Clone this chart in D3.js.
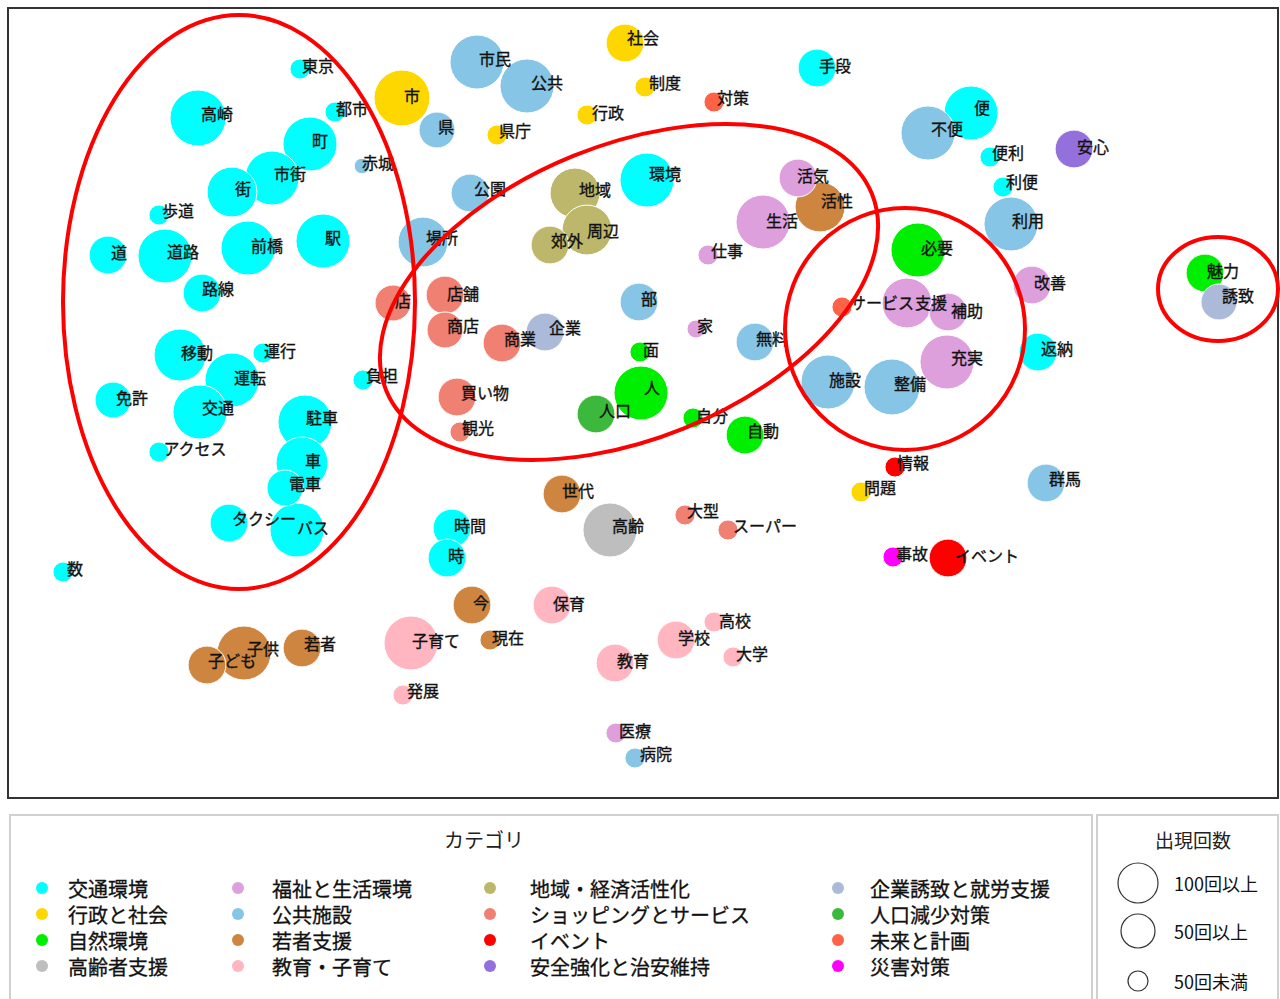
<!DOCTYPE html>
<html>
<head>
<meta charset="utf-8">
<script src="https://cdn.jsdelivr.net/npm/d3@7"></script>
<style>
  html, body { margin: 0; padding: 0; background: #fff; }
  svg { display: block; font-family: "Noto Sans CJK JP", "Noto Sans", sans-serif; }
</style>
</head>
<body>
<svg id="chart" width="1280" height="999"></svg>
<script>
// ---------- DATA ----------
const categories = ["交通環境","行政と社会","自然環境","高齢者支援","福祉と生活環境","公共施設","若者支援","教育・子育て",
  "地域・経済活性化","ショッピングとサービス","イベント","安全強化と治安維持","企業誘致と就労支援","人口減少対策","未来と計画","災害対策"];
const categoryColors = ["#00FFFF","#FFD700","#00EE00","#BEBEBE","#DDA0DD","#87C5E6","#CD853F","#FFB6C1",
  "#BDB76B","#F08072","#FF0000","#9370DB","#AABAD8","#3CB83C","#FF6347","#FF00FF"];

const words = ["東京","高崎","都市","市","町","赤城","市街","街","歩道","道","道路","前橋","駅","路線","店","場所",
  "移動","運転","運行","負担","免許","交通","駐車","アクセス","車","電車","タクシー","バス","数",
  "社会","市民","公共","制度","対策","行政","県","県庁","環境","公園","地域","周辺","郊外","活気","生活","仕事","店舗","部",
  "手段","便","不便","便利","安心","利便","活性","利用","必要","改善","魅力","誘致","サービス","支援","補助",
  "施設","整備","充実","返納","情報","問題","群馬","事故","イベント",
  "商店","商業","企業","家","無料","面","人","人口","買い物","観光","自分","自動","世代","高齢","大型","スーパー","時間","時","今","保育",
  "子ども","子供","若者","子育て","現在","発展","学校","高校","教育","大学","医療","病院"];
const wordCategory = [0,0,0,1,0,5,0,0,0,0,0,0,0,0,9,5,
  0,0,0,0,0,0,0,0,0,0,0,0,0,
  1,5,5,1,14,1,5,1,0,5,8,8,8,4,4,4,9,5,
  0,0,5,0,11,0,6,5,2,4,2,12,14,4,4,
  5,5,4,0,10,1,5,15,10,
  9,9,12,4,5,2,2,13,9,9,2,2,6,3,9,9,0,0,6,7,
  6,6,6,7,6,7,7,7,7,7,4,5];
const dim1 = [29.2,19.0,32.7,39.4,30.2,35.4,26.4,22.4,15.1,10.0,15.7,24.0,31.5,19.4,38.5,41.5,
  17.2,22.4,25.5,35.5,10.5,19.2,29.7,15.1,29.4,27.7,22.1,28.9,5.5,
  61.7,46.9,51.9,63.7,70.6,57.9,42.9,48.9,63.9,46.2,56.7,57.9,54.2,79.0,75.5,70.0,43.7,63.1,
  80.9,96.3,92.0,98.2,106.6,99.5,81.2,100.3,91.0,102.4,119.7,121.1,83.4,89.9,94.0,
  82.0,88.4,93.9,103.0,88.7,85.3,103.8,88.5,94.0,
  43.7,49.4,53.7,68.8,74.7,63.2,63.3,58.8,44.9,45.2,68.5,73.7,55.4,60.2,67.7,72.0,44.4,43.9,46.4,54.4,
  19.9,23.6,29.4,40.3,48.2,39.5,66.8,70.6,60.7,72.5,60.8,62.7];
const dim2 = [6.1,11.0,10.4,9.0,13.6,15.8,17.0,18.4,20.7,24.7,24.8,24.0,23.3,28.5,29.5,23.4,
  34.7,37.2,34.5,37.2,39.2,40.4,41.4,44.4,45.5,48.0,51.5,52.2,56.4,
  3.5,5.4,7.8,7.9,9.4,10.7,12.2,12.7,17.2,18.5,18.5,22.2,23.7,17.0,21.4,24.7,28.7,29.4,
  6.0,10.5,12.5,14.9,14.1,17.9,19.9,21.6,24.2,27.7,26.5,29.4,29.9,29.5,30.4,
  37.4,37.9,35.4,34.4,45.9,48.4,47.5,54.9,55.0,
  32.2,33.5,32.4,32.1,33.4,34.4,38.5,40.6,38.9,42.4,41.0,42.7,48.6,52.2,50.7,52.2,52.0,55.0,59.7,59.7,
  65.7,64.5,64.0,63.5,63.2,68.7,63.2,61.4,65.5,64.9,72.5,75.0];
const frequency = [15,116,15,116,108,9,108,92,15,53,108,108,108,53,48,92,
  100,108,15,15,48,108,108,15,100,48,53,108,15,
  53,108,108,15,15,15,48,15,108,53,92,92,53,53,108,15,53,53,
  53,108,108,15,53,15,92,108,108,53,53,48,15,92,53,
  108,116,108,53,15,15,53,15,53,
  48,53,53,12,53,15,108,53,53,15,15,53,53,108,15,15,53,53,53,53,
  53,108,53,108,15,15,53,15,53,15,15,15];
const labelDim1 = [31.0,20.9,34.4,40.4,31.2,37.0,28.2,23.5,17.0,11.1,17.5,25.9,32.5,21.0,39.5,43.4,
  18.9,24.2,27.2,37.4,12.4,21.0,31.4,18.7,30.5,29.7,25.6,30.5,6.7,
  63.5,48.7,53.9,65.7,72.5,60.0,43.8,50.7,65.7,48.2,58.7,59.5,55.9,80.5,77.4,71.9,45.5,64.1,
  82.7,97.4,93.9,100.0,108.5,101.4,82.9,102.0,92.9,104.2,121.5,123.0,87.4,92.3,95.9,
  83.7,90.2,95.9,104.9,90.5,87.2,105.7,90.4,97.9,
  45.5,51.2,55.7,69.7,76.4,64.3,64.4,60.7,47.7,47.0,70.4,75.5,57.0,62.0,69.5,75.7,46.2,44.8,47.3,56.1,
  22.4,25.5,31.2,42.8,50.0,41.5,68.6,72.7,62.5,74.4,62.7,64.8];
const labelDim2 = [5.7,10.5,10.0,8.7,13.2,15.4,16.5,18.0,20.2,24.4,24.3,23.7,22.9,28.0,29.2,22.9,
  34.4,36.9,34.2,36.7,38.9,39.9,40.9,44.0,45.2,47.5,51.0,51.9,56.0,
  2.9,5.0,7.4,7.4,8.9,10.4,11.8,12.2,16.5,18.0,18.1,22.2,23.2,16.7,21.2,24.2,28.5,29.0,
  5.7,9.9,12.0,14.4,13.8,17.3,19.2,21.2,23.9,27.4,26.2,28.7,29.4,29.4,30.2,
  37.1,37.5,34.9,34.0,45.4,47.9,47.0,54.5,54.7,
  31.7,33.0,31.9,31.7,33.0,34.1,37.9,40.2,38.4,41.9,40.7,42.2,48.2,51.7,50.2,51.7,51.7,54.7,59.4,59.5,
  65.2,64.0,63.5,63.2,62.9,68.2,62.9,61.2,65.2,64.5,72.2,74.5];

// red annotation ellipses (data units): cx, cy, rx, ry, angle(deg)
const groupCx = [23.1, 62.1, 89.7, 121.0];
const groupCy = [29.4, 28.4, 32.1, 28.1];
const groupRx = [17.6, 26.2, 12.0, 6.0];
const groupRy = [28.7, 14.7, 12.1, 5.2];
const groupAngle = [0, -22, 0, 0];

const sizeLegendLabels = ["100回以上","50回以上","50回未満"];
const sizeLegendR = [20, 17, 10];

// ---------- DRAW ----------
const svg = d3.select("#chart");
const plot = {x0: 8, y0: 8, x1: 1278, y1: 798};
const x = d3.scaleLinear().domain([0, 127]).range([plot.x0, plot.x1]);
const y = d3.scaleLinear().domain([0, 79]).range([plot.y0, plot.y1]);
const pxPerUnit = x(1) - x(0);
const r = d3.scaleSqrt().domain([0, 100]).range([0, 26]);
const color = d3.scaleOrdinal().domain(d3.range(categories.length)).range(categoryColors);

const nodes = words.map((w, i) => ({
  word: w, cat: wordCategory[i], x: dim1[i], y: dim2[i], n: frequency[i], lx: labelDim1[i], ly: labelDim2[i]
}));

// plot frame
svg.append("rect").attr("x", plot.x0).attr("y", plot.y0)
  .attr("width", plot.x1 - plot.x0).attr("height", plot.y1 - plot.y0)
  .attr("fill", "#fff").attr("stroke", "#333").attr("stroke-width", 2);

// bubbles (larger first)
svg.append("g").selectAll("circle")
  .data(nodes.slice().sort((a, b) => b.n - a.n))
  .join("circle")
  .attr("cx", d => x(d.x)).attr("cy", d => y(d.y)).attr("r", d => r(d.n))
  .attr("fill", d => color(d.cat)).attr("stroke", "#fff").attr("stroke-width", 1);

// labels
svg.append("g").selectAll("text")
  .data(nodes).join("text")
  .attr("x", d => x(d.lx)).attr("y", d => y(d.ly))
  .attr("text-anchor", "middle").attr("dominant-baseline", "central")
  .attr("font-size", 16).attr("fill", "#111").attr("stroke", "#111").attr("stroke-width", 0.35)
  .text(d => d.word);

// red annotation ellipses
svg.append("g").selectAll("ellipse")
  .data(d3.range(groupCx.length)).join("ellipse")
  .attr("cx", 0).attr("cy", 0)
  .attr("rx", i => groupRx[i] * pxPerUnit).attr("ry", i => groupRy[i] * pxPerUnit)
  .attr("transform", i => `translate(${x(groupCx[i])},${y(groupCy[i])}) rotate(${groupAngle[i]})`)
  .attr("fill", "none").attr("stroke", "#FF0000").attr("stroke-width", 4);

// ---------- category legend ----------
const lg = svg.append("g");
lg.append("rect").attr("x", 10).attr("y", 815).attr("width", 1082).attr("height", 200)
  .attr("fill", "#fff").attr("stroke", "#d0d0d0").attr("stroke-width", 2);
lg.append("text").attr("x", 484).attr("y", 839).attr("text-anchor", "middle")
  .attr("dominant-baseline", "central").attr("font-size", 20).attr("fill", "#222").text("カテゴリ");
const colX = [42, 238, 490, 838];
const textX = [68, 272, 530, 870];
const rowY = [888, 914, 940, 966];
const legendItems = categories.map((c, i) => ({c, i, col: Math.floor(i / 4), row: i % 4}));
const li = lg.selectAll("g.item").data(legendItems).join("g").attr("class", "item");
li.append("circle").attr("cx", d => colX[d.col]).attr("cy", d => rowY[d.row]).attr("r", 6)
  .attr("fill", d => color(d.i));
li.append("text").attr("x", d => textX[d.col]).attr("y", d => rowY[d.row])
  .attr("dominant-baseline", "central").attr("font-size", 20).attr("fill", "#111")
  .attr("stroke", "#111").attr("stroke-width", 0.3).text(d => d.c);

// ---------- size legend ----------
const sg = svg.append("g");
sg.append("rect").attr("x", 1097).attr("y", 815).attr("width", 181).attr("height", 200)
  .attr("fill", "#fff").attr("stroke", "#d0d0d0").attr("stroke-width", 2);
sg.append("text").attr("x", 1193).attr("y", 839).attr("text-anchor", "middle")
  .attr("dominant-baseline", "central").attr("font-size", 19).attr("fill", "#222").text("出現回数");
const sizeY = [883, 931, 981];
sizeLegendLabels.forEach((t, i) => {
  sg.append("circle").attr("cx", 1138).attr("cy", sizeY[i]).attr("r", sizeLegendR[i])
    .attr("fill", "none").attr("stroke", "#333").attr("stroke-width", 1.2);
  sg.append("text").attr("x", 1174).attr("y", sizeY[i]).attr("dominant-baseline", "central")
    .attr("font-size", 18).attr("fill", "#111").text(t);
});
</script>
</body>
</html>
